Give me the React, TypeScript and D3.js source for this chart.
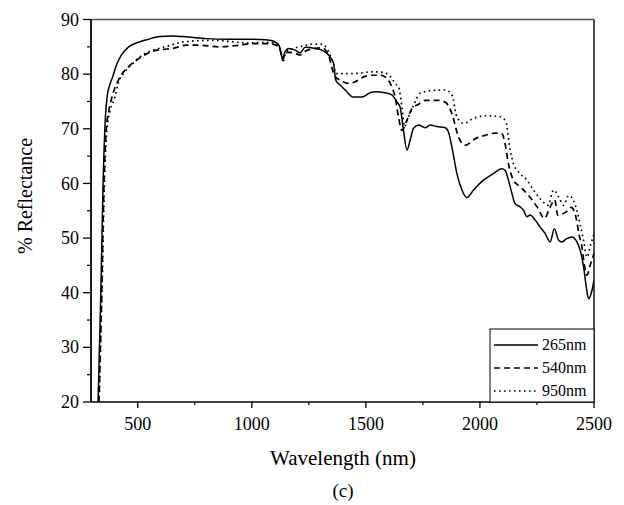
import React from "react";
import * as d3 from "d3";

// ---- Data ----
const xMajorTicks = [500, 1000, 1500, 2000, 2500];
const xMinorTicks = [750, 1250, 1750, 2250];
const yMajorTicks = [20, 30, 40, 50, 60, 70, 80, 90];
const yMinorTicks = [25, 35, 45, 55, 65, 75, 85];

const seriesNames = ["265nm", "540nm", "950nm"];

const curve265: [number, number][] = [
  [326, 20], [338, 40], [348, 60], [358, 72], [366, 76], [377, 78], [390, 79.5], [405, 81.5],
  [428, 83.5], [460, 85], [500, 85.8], [540, 86.3], [596, 86.9], [650, 87], [720, 86.8],
  [800, 86.5], [900, 86.4], [1000, 86.4], [1060, 86.3], [1090, 86.1], [1105, 85.8], [1120, 85.2],
  [1128, 83.8], [1134, 82.9], [1146, 84.1], [1160, 84.7], [1190, 84.4], [1212, 83.9], [1234, 84.9],
  [1277, 84.7], [1307, 84.4], [1336, 83.5], [1358, 82], [1368, 78.9], [1387, 78], [1409, 77.1],
  [1445, 75.8], [1482, 75.8], [1519, 76.6], [1541, 76.8], [1584, 76.6], [1614, 76.2], [1636, 74.9],
  [1650, 74], [1665, 69.7], [1680, 66.1], [1694, 67.9], [1709, 70.1], [1731, 70.7], [1760, 70.2],
  [1782, 70.7], [1811, 70.4], [1848, 70.2], [1862, 69.4], [1877, 66.7], [1899, 61.8], [1921, 58.8],
  [1943, 57.4], [1972, 58.8], [2015, 60.6], [2059, 61.8], [2096, 62.7], [2110, 62.4], [2125, 60.6],
  [2140, 58.2], [2154, 56.3], [2176, 55.7], [2191, 55.1], [2206, 53.9], [2220, 54.2], [2242, 53.3],
  [2264, 52], [2286, 50.8], [2308, 49.3], [2326, 51.7], [2345, 49.6], [2359, 49.3], [2381, 49.9],
  [2403, 50.2], [2425, 49.3], [2439, 47.8], [2454, 44.8], [2466, 41.1], [2476, 38.9], [2491, 40.4],
  [2500, 42.3],
];

const curve540: [number, number][] = [
  [330, 20], [342, 40], [352, 60], [362, 70], [372, 73], [385, 75.5], [400, 77.5], [415, 78.9],
  [430, 80], [450, 81], [486, 82.3], [530, 83.5], [559, 84.1], [603, 84.5], [654, 84.7], [712, 85.3],
  [770, 85.3], [858, 85], [946, 85.3], [1004, 85.6], [1060, 85.6], [1100, 85.4], [1120, 84.8],
  [1130, 83.5], [1135, 82.5], [1146, 83.8], [1160, 84], [1190, 83.8], [1212, 83.5], [1234, 84.2],
  [1277, 84.7], [1307, 84.8], [1325, 84.3], [1340, 83], [1352, 81], [1366, 79.5], [1387, 78.9],
  [1424, 78.3], [1453, 78.6], [1490, 79.5], [1526, 79.8], [1563, 79.8], [1584, 79.5], [1607, 78.3],
  [1628, 75.8], [1643, 72.2], [1658, 69.7], [1680, 71.6], [1702, 73.7], [1731, 74.5], [1760, 75.2],
  [1818, 75.2], [1850, 74.8], [1870, 73.5], [1877, 72.8], [1906, 68.5], [1935, 67], [1980, 68.2],
  [2023, 68.8], [2067, 69.2], [2096, 69.1], [2110, 67.3], [2125, 63.6], [2147, 60.6], [2176, 59.4],
  [2213, 57.8], [2249, 55.8], [2283, 53.6], [2305, 55.4], [2328, 57], [2341, 54.2], [2378, 54.8],
  [2400, 55.6], [2420, 54], [2434, 50.8], [2447, 48.4], [2459, 44.8], [2469, 43.2], [2483, 45],
  [2500, 47.2],
];

const curve950: [number, number][] = [
  [330, 20], [343, 40], [354, 60], [365, 70], [380, 73.5], [400, 75.8], [414, 78.3], [443, 80.4],
  [480, 82], [520, 83.5], [560, 84.3], [620, 85], [700, 85.9], [830, 86.2], [990, 85.7],
  [1060, 85.8], [1100, 85.7], [1120, 85], [1130, 83.5], [1136, 82.3], [1150, 84], [1180, 84.7],
  [1210, 85], [1240, 85.3], [1270, 85.5], [1300, 85.5], [1325, 85], [1343, 83.5], [1357, 82],
  [1370, 80.1], [1400, 80.1], [1445, 80.1], [1475, 80.2], [1519, 80.4], [1555, 80.4], [1592, 80.1],
  [1614, 79.2], [1628, 78.3], [1643, 77.7], [1658, 74], [1669, 70.4], [1687, 72.2], [1709, 74.3],
  [1738, 76.5], [1790, 77], [1848, 77.1], [1877, 76.2], [1899, 72.2], [1928, 71], [1972, 71.9],
  [2030, 72.4], [2088, 72.2], [2114, 71.3], [2128, 67.3], [2147, 63.6], [2169, 62.1], [2206, 60.6],
  [2235, 58.8], [2270, 56.9], [2299, 56], [2323, 58.8], [2345, 57.5], [2367, 56], [2389, 57.8],
  [2410, 56.9], [2439, 52.6], [2454, 49.6], [2469, 46.5], [2483, 48.4], [2500, 50.8],
];

const allSeries = [curve265, curve540, curve950];
const dashes = ["none", "6,4", "1.6,3.4"];

// ---- Layout ----
const W = 624;
const H = 505;
const left = 91;
const right = 594;
const top = 19.5;
const bottom = 402;
const FONT = '"Liberation Serif", "DejaVu Serif", "Times New Roman", Times, serif';
const txt = { fontFamily: FONT };

export default function App() {
  const x = d3.scaleLinear().domain([295, 2500]).range([left, right]);
  const y = d3.scaleLinear().domain([20, 90]).range([bottom, top]);
  const line = d3
    .line<[number, number]>()
    .x((d) => x(d[0]))
    .y((d) => y(d[1]))
    .curve(d3.curveMonotoneX);

  const legX = 490;
  const legY = 329;
  const legRows = [345, 368, 391];

  return (
    <svg
      width={W}
      height={H}
      viewBox={`0 0 ${W} ${H}`}
      style={{ position: "absolute", left: 0, top: 0, background: "#fff" }}
    >
      <rect x={0} y={0} width={W} height={H} fill="#fff" />
      <defs>
        <clipPath id="plotClip">
          <rect x={left} y={top} width={right - left} height={bottom - top} />
        </clipPath>
      </defs>

      {/* series */}
      <g clipPath="url(#plotClip)">
        {allSeries.map((s, i) => (
          <path
            key={seriesNames[i]}
            d={line(s) || ""}
            fill="none"
            stroke="#000"
            strokeWidth={i === 0 ? 1.5 : 1.7}
            strokeDasharray={dashes[i]}
            strokeLinejoin="round"
          />
        ))}
      </g>

      {/* frame */}
      <line x1={left} y1={top} x2={right} y2={top} stroke="#555" strokeWidth={1.3} />
      <line x1={right} y1={top} x2={right} y2={bottom} stroke="#111" strokeWidth={1.5} />
      <line x1={left} y1={top} x2={left} y2={bottom} stroke="#000" strokeWidth={1.8} />
      <line x1={left} y1={bottom} x2={right} y2={bottom} stroke="#000" strokeWidth={1.5} />

      {/* y ticks */}
      {yMajorTicks.map((t) => (
        <g key={"ym" + t}>
          <line x1={left - 8} x2={left} y1={y(t)} y2={y(t)} stroke="#000" strokeWidth={1.3} />
          <text x={left - 12} y={y(t)} dy="0.34em" textAnchor="end" fontSize={18} style={txt}>
            {t}
          </text>
        </g>
      ))}
      {yMinorTicks.map((t) => (
        <line key={"yn" + t} x1={left - 4} x2={left} y1={y(t)} y2={y(t)} stroke="#000" strokeWidth={1.2} />
      ))}

      {/* x ticks */}
      {xMajorTicks.map((t) => (
        <g key={"xm" + t}>
          <line x1={x(t)} x2={x(t)} y1={bottom} y2={bottom + 6} stroke="#000" strokeWidth={1.3} />
          <text x={x(t)} y={bottom + 28} textAnchor="middle" fontSize={18} style={txt}>
            {t}
          </text>
        </g>
      ))}
      {xMinorTicks.map((t) => (
        <line key={"xn" + t} x1={x(t)} x2={x(t)} y1={bottom} y2={bottom + 3} stroke="#000" strokeWidth={1.2} />
      ))}

      {/* axis titles */}
      <text x={343} y={465} textAnchor="middle" fontSize={21} style={txt}>
        Wavelength (nm)
      </text>
      <text x={343} y={497} textAnchor="middle" fontSize={19} style={txt}>
        (c)
      </text>
      <text
        transform={`translate(32, ${196}) rotate(-90)`}
        textAnchor="middle"
        fontSize={20}
        style={txt}
      >
        % Reflectance
      </text>

      {/* legend */}
      <rect x={legX} y={legY} width={right - legX} height={bottom - legY} fill="#fff" stroke="#000" strokeWidth={1} />
      {seriesNames.map((n, i) => (
        <g key={"leg" + n}>
          <line
            x1={494}
            x2={538}
            y1={legRows[i]}
            y2={legRows[i]}
            stroke="#000"
            strokeWidth={1.5}
            strokeDasharray={dashes[i]}
          />
          <text x={542} y={legRows[i]} dy="0.34em" fontSize={16} style={txt}>
            {n}
          </text>
        </g>
      ))}
    </svg>
  );
}
